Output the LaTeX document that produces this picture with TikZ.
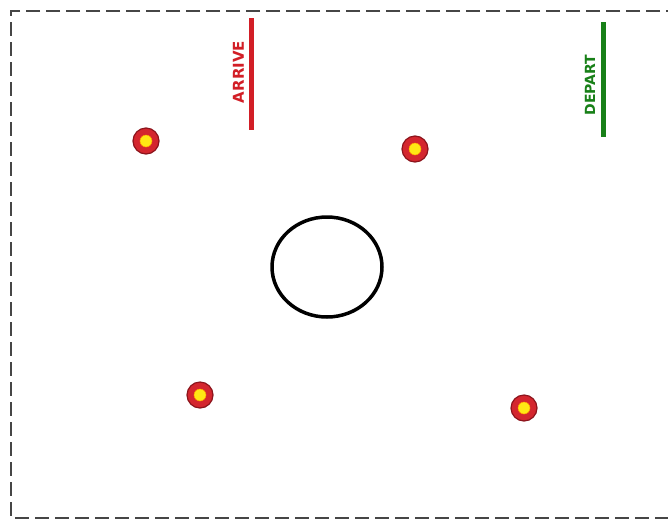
\documentclass[tikz,border=0pt]{standalone}
\usepackage{fontspec}
\newfontfamily\labelfont{DejaVu Sans}
\usetikzlibrary{shapes.geometric}
\definecolor{arrred}{RGB}{210,30,38}
\definecolor{depgreen}{RGB}{24,128,24}
\definecolor{tgtred}{RGB}{212,38,46}
\definecolor{tgtedge}{RGB}{140,20,28}
\definecolor{tgtyellow}{RGB}{255,232,20}
\definecolor{bordergray}{RGB}{70,70,70}
\tikzset{
  target/.style={circle, fill=tgtred, draw=tgtedge, line width=1.2pt, minimum size=26pt, inner sep=0pt},
  bull/.style={circle, fill=tgtyellow, draw=orange!80!yellow, line width=0.5pt, minimum size=12pt, inner sep=0pt},
  barlabel/.style={rotate=90, font=\labelfont\bfseries\fontsize{15}{15}\selectfont, inner sep=0pt},
  bar/.style={line width=5pt},
}
\begin{document}
\begin{tikzpicture}[x=1pt,y=-1pt]
\useasboundingbox (0,0) rectangle (668,520);
\fill[white] (0,0) rectangle (668,520);
\draw[bordergray, line width=1.3pt, dash pattern=on 14pt off 6pt] (680,11) -- (11,11) -- (11,518) -- (680,518);
% arrive
\coordinate (a1) at (251,18);
\coordinate (a2) at (251,130);
\draw[bar, arrred] (a1) -- (a2);
\node[barlabel, text=arrred] (arrive) at (238.5,72) {ARRIVE};
% depart
\coordinate (d1) at (603,22);
\coordinate (d2) at (603,137);
\draw[bar, depgreen] (d1) -- (d2);
\node[barlabel, text=depgreen, font=\labelfont\bfseries\fontsize{14}{14}\selectfont] (depart) at (590,85) {DEPART};
% targets
\node[target] (t1) at (146,141) {};
\node[bull] (b1) at (t1) {};
\node[target] (t2) at (415,149) {};
\node[bull] (b2) at (t2) {};
\node[target] (t3) at (200,395) {};
\node[bull] (b3) at (t3) {};
\node[target] (t4) at (524,408) {};
\node[bull] (b4) at (t4) {};
% centre ellipse
\node[ellipse, draw=black, line width=3.5pt, minimum width=110pt, minimum height=100pt, inner sep=0pt] (ring) at (327,267) {};
\end{tikzpicture}
\end{document}
